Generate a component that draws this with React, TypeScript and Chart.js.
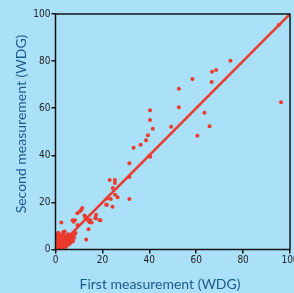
import React, { useEffect, useRef } from "react";
import { Chart, registerables } from "chart.js";

Chart.register(...registerables);

// First measurement (WDG) values
const firstMeasurement = [
  74.6, 66.8, 68.5, 58.4, 66.6, 52.6, 52.6, 63.5, 65.7, 60.5, 49.3, 40.3, 40.3,
  41.5, 39.4, 38.6, 95.2, 96.2, 36.3, 33.3, 31.5, 31.5, 40.0, 23.1, 25.3, 25.3,
  24.4, 23.6, 25.4, 26.5, 31.5, 40.4, 24.3, 21.9, 18.9, 17.3, 17.3, 11.4, 10.4,
  9.3, 7.3, 8.3, 7.7, 2.5, 12.4, 13.0, 14.4, 15.4, 14.1, 13.1, 8.4, 9.4, 3.3,
  1.2, 11.0, 12.7, 13.8, 14.8, 16.9, 19.2, 21.6, 22.0, 3.9, 2.8,
  0.5, 1.0, 1.5, 2.0, 0.3, 1.0, 2.0, 2.5, 3.0, 3.0, 1.5, 0.5, 2.0, 3.5, 4.0,
  4.0, 4.5, 5.0, 5.5, 6.0, 6.5, 7.0, 5.0, 4.0, 3.0, 2.5, 1.5, 1.0, 2.0, 3.0,
  0.8, 1.2, 4.5, 5.5, 6.0, 7.0, 7.5, 8.0, 8.5, 3.5, 2.8, 4.5, 5.0, 6.0, 0.2,
  0.8, 1.8, 2.2, 3.2, 3.8, 5.2, 6.5, 7.5, 4.2, 5.8,
  0.6, 1.4, 2.4, 3.6, 4.8, 0.4, 1.6, 2.6, 3.4, 4.4, 5.6, 1.1, 2.1, 3.1, 0.9,
  1.9, 2.9, 6.8, 5.4, 4.6, 1.3, 2.3, 0.7, 3.3, 4.1,
];

// Second measurement (WDG) values
const secondMeasurement = [
  80.2, 75.5, 76.2, 72.4, 71.1, 68.3, 60.4, 58.1, 52.3, 48.3, 52.1, 59.1, 55.0,
  51.3, 48.5, 46.4, 95.3, 62.5, 44.5, 43.2, 36.6, 30.8, 39.7, 29.5, 29.5, 28.2,
  26.1, 21.4, 23.3, 22.2, 21.4, 39.4, 18.2, 19.0, 12.4, 14.8, 13.2, 17.6, 16.2,
  15.4, 12.4, 12.4, 11.8, 11.5, 14.4, 13.4, 11.7, 11.5, 8.6, 4.2, 6.7, 10.4, 7.4,
  7.0, 16.8, 13.7, 12.5, 12.5, 13.4, 12.4, 19.0, 21.7, 7.6, 6.2,
  0.5, 0.3, 1.0, 0.5, 1.5, 2.0, 2.0, 1.5, 1.0, 2.5, 3.0, 3.0, 3.5, 3.0, 2.0,
  3.5, 4.0, 3.0, 4.5, 5.0, 5.5, 6.0, 5.5, 5.0, 4.5, 5.0, 4.5, 5.5, 6.0, 6.5,
  6.5, 7.0, 6.0, 6.5, 4.0, 4.5, 5.5, 5.0, 7.0, 1.5, 0.8, 1.2, 2.0, 3.0, 0.2,
  1.2, 1.8, 2.6, 3.4, 3.8, 4.8, 3.0, 3.5, 2.5, 2.2,
  2.4, 0.6, 1.2, 2.2, 2.8, 4.2, 3.8, 3.6, 4.2, 3.2, 4.0, 4.0, 4.4, 5.2, 5.0,
  0.4, 0.6, 6.2, 6.0, 2.6, 2.8, 1.0, 3.6, 1.6, 1.2,
];

// Line of identity end points
const identityX = [0, 100];
const identityY = [0, 100];

const tickValues = [0, 20, 40, 60, 80, 100];

const xTitle = "First measurement (WDG)";
const yTitle = "Second measurement (WDG)";

const BG = "#abe0f9";
const RED = "#ea3b2e";
const TITLE_COLOR = "#1c5a8c";
const AXIS_COLOR = "#151515";

export default function App() {
  const canvasRef = useRef<HTMLCanvasElement | null>(null);

  useEffect(() => {
    document.body.style.margin = "0";
    document.body.style.background = BG;
    const canvas = canvasRef.current;
    if (!canvas) return;

    const bgPlugin = {
      id: "bgPlugin",
      beforeDraw(chart: any) {
        const { ctx, width, height } = chart;
        ctx.save();
        ctx.fillStyle = BG;
        ctx.fillRect(0, 0, width, height);
        ctx.restore();
      },
      afterDraw(chart: any) {
        const { ctx, chartArea } = chart;
        ctx.save();
        ctx.strokeStyle = AXIS_COLOR;
        ctx.lineWidth = 1.5;
        ctx.strokeRect(
          chartArea.left,
          chartArea.top,
          chartArea.right - chartArea.left,
          chartArea.bottom - chartArea.top
        );
        ctx.fillStyle = TITLE_COLOR;
        ctx.font = "14px Lato";
        ctx.textAlign = "center";
        ctx.textBaseline = "middle";
        ctx.fillText(xTitle, 160, 284);
        ctx.translate(21, 124);
        ctx.rotate(-Math.PI / 2);
        ctx.fillText(yTitle, 0, 0);
        ctx.restore();
      },
    };

    const tickFont = { family: "'Liberation Sans Narrow', 'DejaVu Sans Condensed', sans-serif", size: 10 };

    const chart = new Chart(canvas, {
      type: "scatter",
      data: {
        datasets: [
          {
            type: "line",
            data: identityX.map((x, i) => ({ x, y: identityY[i] })),
            borderColor: RED,
            borderWidth: 2.6,
            pointRadius: 0,
            fill: false,
            order: 0,
          } as any,
          {
            type: "scatter",
            data: firstMeasurement.map((x, i) => ({ x, y: secondMeasurement[i] })),
            backgroundColor: RED,
            borderColor: RED,
            borderWidth: 0,
            pointRadius: 2,
            order: 1,
          },
        ],
      },
      options: {
        animation: false,
        responsive: false,
        devicePixelRatio: 1,
        layout: { padding: { top: 14, right: 3, left: 0, bottom: 0 } },
        plugins: { legend: { display: false }, tooltip: { enabled: false } },
        scales: {
          x: {
            type: "linear",
            min: 0,
            max: 100,
            afterBuildTicks: (s: any) => {
              s.ticks = tickValues.map((v) => ({ value: v }));
            },
            afterFit: (s: any) => {
              s.height = 43.5;
              s.paddingLeft = 0;
              s.paddingRight = 0;
            },
            ticks: { color: "#222", font: tickFont, padding: 1, maxRotation: 0 },
            grid: {
              drawOnChartArea: false,
              drawTicks: true,
              tickLength: 4,
              color: AXIS_COLOR,
              lineWidth: 1.5,
            },
            border: { display: false },
          },
          y: {
            type: "linear",
            min: 0,
            max: 100,
            afterBuildTicks: (s: any) => {
              s.ticks = tickValues.map((v) => ({ value: v }));
            },
            afterFit: (s: any) => {
              s.width = 55.5;
              s.paddingTop = 0;
              s.paddingBottom = 0;
            },
            ticks: { color: "#222", font: tickFont, padding: 1 },
            grid: {
              drawOnChartArea: false,
              drawTicks: true,
              tickLength: 4,
              color: AXIS_COLOR,
              lineWidth: 1.5,
            },
            border: { display: false },
          },
        },
      },
      plugins: [bgPlugin],
    });

    return () => chart.destroy();
  }, []);

  return (
    <div style={{ width: 294, height: 293, background: BG }}>
      <canvas ref={canvasRef} width={294} height={293} style={{ display: "block" }} />
    </div>
  );
}
